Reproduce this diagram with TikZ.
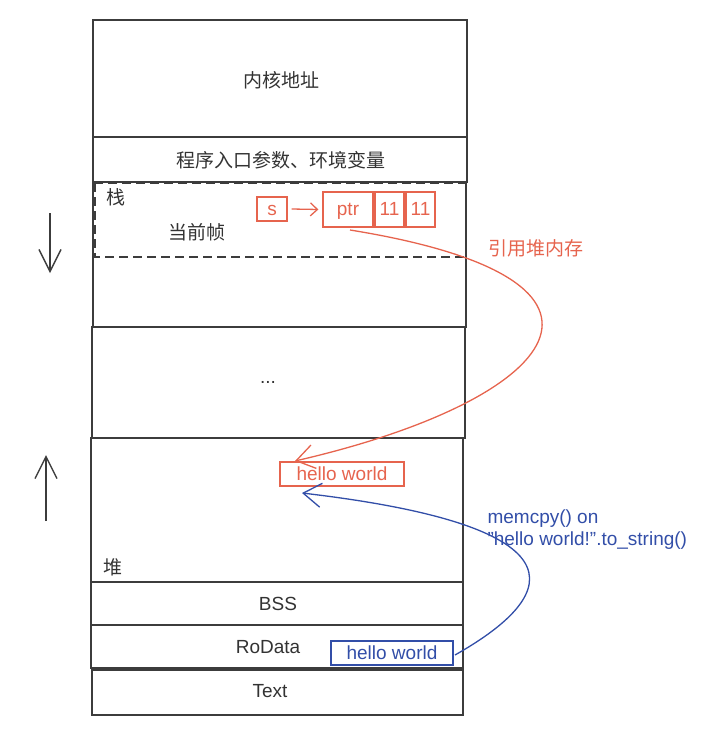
\documentclass[tikz,border=0pt]{standalone}
\usepackage{fontspec}
\setmainfont{Liberation Sans}
\newfontfamily\cjk{Noto Sans CJK SC}
\usetikzlibrary{arrows.meta}
\definecolor{redc}{RGB}{230,100,78}
\definecolor{bluec}{RGB}{50,78,168}
\definecolor{linec}{RGB}{60,60,60}
\tikzset{
  seg/.style={draw=linec, line width=1.6pt},
  txt/.style={font=\fontsize{19}{22}\selectfont, text=black!80},
  ctxt/.style={font=\cjk\fontsize{19}{22}\selectfont, text=black!80},
  redbox/.style={draw=redc, line width=1.3pt, text=redc, font=\fontsize{19}{22}\selectfont, inner sep=0pt, text height=13pt, text depth=1pt},
  bluebox/.style={draw=bluec, line width=1.3pt, text=bluec, font=\fontsize{19}{22}\selectfont, inner sep=0pt, text height=13pt, text depth=1pt},
  barb/.style={-{Straight Barb[length=18pt,width=24pt]}},
  smallbarb/.style={-{Straight Barb[length=7pt,width=13pt]}},
  bigbarb/.style={-{Straight Barb[length=22pt,width=22pt]}}
}
\begin{document}
\begin{tikzpicture}[x=1pt,y=-1pt]
\useasboundingbox (0,0) rectangle (707,733);
% blocks
\draw[seg] (93,20) rectangle (467,137);
\draw[seg] (93,137) rectangle (467,182);
\draw[seg] (93,182) rectangle (466,327);
\draw[seg] (92,327) rectangle (465,438);
\draw[seg] (91,438) rectangle (463,582);
\draw[seg] (91,582) rectangle (463,625);
\draw[seg] (91,625) rectangle (463,668);
\draw[seg] (92,670) rectangle (463,715);
% dashed frame
\draw[draw=linec, line width=2pt, dash pattern=on 9pt off 5pt] (95,183) rectangle (466,257);
% texts
\node[ctxt] (kern) at (281,80) {内核地址};
\node[ctxt] (env) at (281,160) {程序入口参数、环境变量};
\node[ctxt] (stk) at (116,197) {栈};
\node[ctxt] (frame) at (197,232) {当前帧};
\node[txt] (dots) at (268,382) {...};
\node[ctxt] (heap) at (113,567) {堆};
\node[txt] (bss) at (278,604) {BSS};
\node[txt] (ro) at (268,647) {RoData};
\node[txt] (text) at (270,691) {Text};
% red boxes
\node[redbox, minimum width=30pt, minimum height=24pt] (s) at (272,209) {s};
\node[redbox, minimum width=50pt, minimum height=35pt] (ptr) at (348,209.5) {ptr};
\node[redbox, minimum width=29pt, minimum height=35pt] (e1) at (389.5,209.5) {11};
\node[redbox, minimum width=29pt, minimum height=35pt] (e2) at (420.5,209.5) {11};
\draw[redc, line width=1.3pt, smallbarb] ([xshift=4pt]s.east) -- ([xshift=-4pt]ptr.west);
\node[redbox, minimum width=124pt, minimum height=24pt] (hw1) at (342,474) {hello world};
\node[bluebox, minimum width=122pt, minimum height=24pt] (hw2) at (392,653) {hello world};
% red curve
\coordinate (rs) at (350,230);
\coordinate (re) at (295,461);
\draw[redc, line width=1.3pt, barb] (rs) .. controls (660,280) and (560,400) .. (re);
\node[font=\cjk\fontsize{19}{22}\selectfont, text=redc, anchor=west] (lab1) at (485,248) {引用堆内存};
% blue curve
\coordinate (bs) at (455,655);
\coordinate (be) at (302,493);
\draw[bluec, line width=1.3pt, barb] (bs) .. controls (570,590) and (575,525) .. (be);
\node[font=\fontsize{19}{22}\selectfont, text=bluec, anchor=west] (lab2) at (484,519) {memcpy() on};
\node[font=\fontsize{19}{22}\selectfont, text=bluec, anchor=west] (lab3) at (484,541) {\symbol{34}hello world!\symbol{34}.to\_string()};
% side arrows
\coordinate (d1) at (50,213);
\coordinate (d2) at (50,273);
\draw[linec, line width=1.4pt, bigbarb] (d1) -- (d2);
\coordinate (u1) at (46,521);
\coordinate (u2) at (46,455);
\draw[linec, line width=1.4pt, bigbarb] (u1) -- (u2);
\end{tikzpicture}
\end{document}
